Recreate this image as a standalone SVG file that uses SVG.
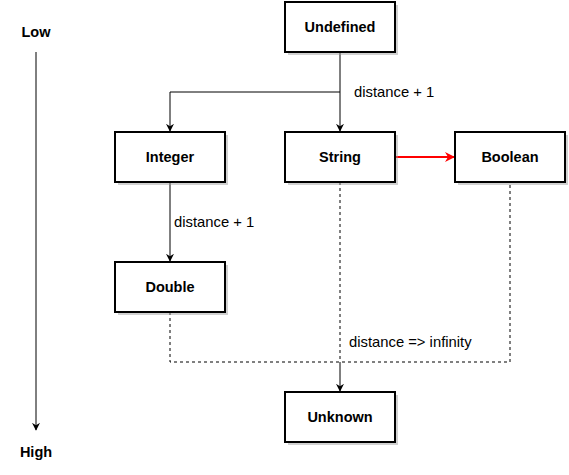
<svg xmlns="http://www.w3.org/2000/svg" width="569" height="475" viewBox="0 0 569 475">
<style>
.box{fill:#fff;stroke:#000;stroke-width:2}
.sh{fill:#999;opacity:0.45}
.lbl{font-family:"Liberation Sans",Arial,sans-serif;font-size:14.5px;font-weight:bold;fill:#000;text-anchor:middle;dominant-baseline:central}
.el{font-family:"Liberation Sans",Arial,sans-serif;font-size:14.8px;fill:#000}
.ln{fill:none;stroke:#000;stroke-width:1}
.dash{stroke-dasharray:3 3}
</style>
<defs>
<marker id="ah" viewBox="0 0 10 10" refX="9" refY="5" markerWidth="8" markerHeight="8" markerUnits="userSpaceOnUse" orient="auto">
<path d="M0,0 L10,5 L0,10 L3,5 Z" fill="#000"/>
</marker>
<marker id="ahr" viewBox="0 0 10 10" refX="9" refY="5" markerWidth="10" markerHeight="10" markerUnits="userSpaceOnUse" orient="auto">
<path d="M0,0 L10,5 L0,10 L3,5 Z" fill="#f00"/>
</marker>
</defs>
<g id="connectors">
<path class="ln" d="M340,52 V131" marker-end="url(#ah)"/>
<path class="ln" d="M340,92 H170 V131" marker-end="url(#ah)"/>
<path d="M395,157 H454" fill="none" stroke="#f00" stroke-width="2" marker-end="url(#ahr)"/>
<path class="ln" d="M170,182 V261" marker-end="url(#ah)"/>
<path class="ln dash" d="M170,312 V362 H510 V182"/>
<path class="ln dash" d="M340,182 V362"/>
<path class="ln" d="M340,362 V391" marker-end="url(#ah)"/>
<path class="ln" d="M36,52 V430" marker-end="url(#ah)"/>
<text class="el" x="354" y="97">distance + 1</text>
<text class="el" x="174" y="227">distance + 1</text>
<text class="el" x="349" y="347">distance =&gt; infinity</text>
</g>
<g id="low"><text class="lbl" x="36" y="32">Low</text></g>
<g id="high"><text class="lbl" x="36" y="452">High</text></g>
<g id="undefined"><rect class="sh" x="288" y="5" width="110" height="50"/><rect class="box" x="285" y="2" width="110" height="50"/><text class="lbl" x="340" y="27">Undefined</text></g>
<g id="integer"><rect class="sh" x="118" y="135" width="110" height="50"/><rect class="box" x="115" y="132" width="110" height="50"/><text class="lbl" x="170" y="157">Integer</text></g>
<g id="string"><rect class="sh" x="288" y="135" width="110" height="50"/><rect class="box" x="285" y="132" width="110" height="50"/><text class="lbl" x="340" y="157">String</text></g>
<g id="boolean"><rect class="sh" x="458" y="135" width="110" height="50"/><rect class="box" x="455" y="132" width="110" height="50"/><text class="lbl" x="510" y="157">Boolean</text></g>
<g id="double"><rect class="sh" x="118" y="265" width="110" height="50"/><rect class="box" x="115" y="262" width="110" height="50"/><text class="lbl" x="170" y="287">Double</text></g>
<g id="unknown"><rect class="sh" x="288" y="395" width="110" height="50"/><rect class="box" x="285" y="392" width="110" height="50"/><text class="lbl" x="340" y="417">Unknown</text></g>
</svg>
